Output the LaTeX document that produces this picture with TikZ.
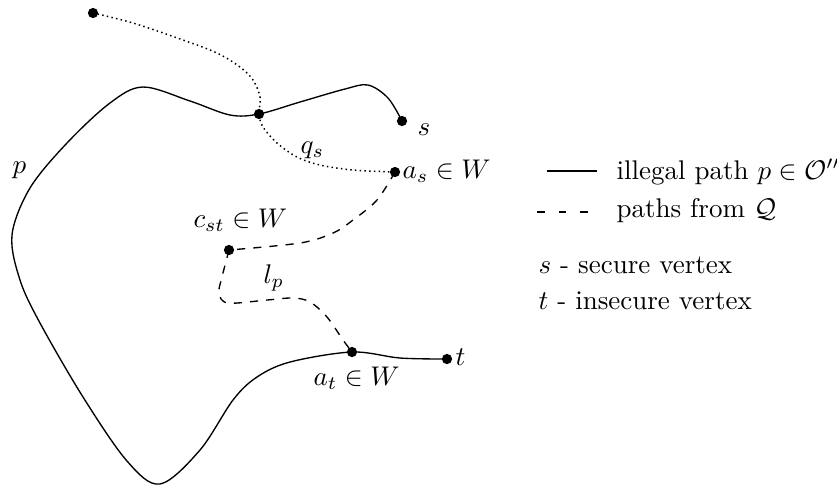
\documentclass[tikz,border=0pt]{standalone}
\usepackage{amsmath,amssymb}
\usepackage{tikz}
\usetikzlibrary{positioning}

\begin{document}
\begin{tikzpicture}[
 x=0.3704pt,y=-0.3704pt,
 dot/.style={circle,fill=black,inner sep=0pt,minimum size=3.8pt},
 lbl/.style={inner sep=0pt,anchor=base west},
 ppath/.style={line width=0.5pt},
 qpath/.style={line width=0.5pt,dash pattern=on 3pt off 3pt},
 spath/.style={line width=0.55pt,dash pattern=on 0.55pt off 1.2pt}
]
\useasboundingbox (0,0) rectangle (837,485);
% vertices
\node[dot] (top) at (93,13) {};
\node[dot] (x) at (259,114) {};
\node[dot] (s) at (402,121) {};
\node[dot] (as) at (395,172) {};
\node[dot] (cst) at (229,250) {};
\node[dot] (at) at (352,352) {};
\node[dot] (t) at (447,359) {};
% illegal path p
\draw[ppath] plot[smooth,tension=0.55] coordinates {(s.center) (388,98) (368,85) (345,89) (300,102) (x.center)
 (230,115) (190,101) (143,87) (110,103) (67,143) (30,188) (12,235) (20,280) (40,323) (83,397) (127,461)
 (160,484) (200,450) (233,400) (257,377) (290,362) (at.center) (400,358) (t.center)};
% q_s
\draw[spath] plot[smooth,tension=0.55] coordinates {(top.center) (133,23) (183,40) (217,53) (240,67) (253,80)
 (260,97) (x.center) (263,127) (277,143) (297,157) (320,165) (353,170) (as.center)};
% l_p
\draw[qpath] plot[smooth,tension=0.55] coordinates {(as.center) (377,200) (353,220) (333,233) (300,243) (cst.center)};
\draw[qpath] plot[smooth,tension=0.55] coordinates {(cst.center) (222,277) (219,293) (228,303) (267,300)
 (293,298) (310,302) (327,317) (343,340) (at.center)};
% labels
\node[lbl] (pl) at (12,173) {$p$};
\node[lbl] (qsl) at (300,153) {$q_s$};
\node[lbl] (sl) at (417,135) {$s$};
\node[lbl] (asl) at (402,178) {$a_s\in W$};
\node[lbl] (cstl) at (193,227) {$c_{st}\in W$};
\node[lbl] (lpl) at (263,283) {$l_p$};
\node[lbl] (atl) at (313,385) {$a_t\in W$};
\node[lbl] (tl) at (455,365) {$t$};
% legend
\coordinate (leg1a) at (547,171);
\coordinate (leg1b) at (597,171);
\draw[ppath] (leg1a) -- (leg1b);
\node[lbl] (leg1) at (616,179) {illegal path $p\in\mathcal{O}''$};
\coordinate (leg2a) at (537,212);
\coordinate (leg2b) at (590,212);
\draw[line width=0.5pt,dash pattern=on 2.9pt off 5.1pt] (leg2a) -- (leg2b);
\node[lbl] (leg2) at (616,217) {paths from $\mathcal{Q}$};
\node[lbl] (leg3) at (538,273) {$s$ - secure vertex};
\node[lbl] (leg4) at (538,309) {$t$ - insecure vertex};
\end{tikzpicture}
\end{document}
